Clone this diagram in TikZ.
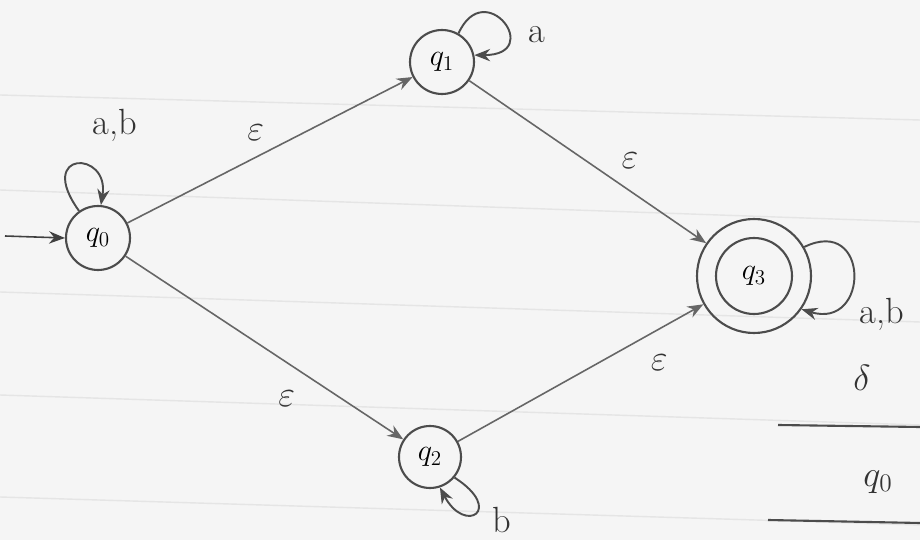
\documentclass[tikz,border=0pt]{standalone}
\usetikzlibrary{arrows.meta}
\begin{document}
\begin{tikzpicture}[x=0.02cm,y=-0.02cm,
  pen/.style={draw=black!70,line width=1.2pt},
  state/.style={circle,pen,minimum size=64*0.02cm,inner sep=0pt,font=\LARGE},
  edge/.style={draw=black!60,line width=0.9pt,-{Stealth[length=9pt,width=7pt]}},
  lab/.style={font=\huge,text=black!80},
  paper/.style={draw=black!10,line width=0.8pt}]
\fill[black!4] (0,0) rectangle (920,540);
\useasboundingbox (0,0) rectangle (920,540);
% paper lines
\draw[paper] (0,95) -- (920,120);
\draw[paper] (0,190) -- (920,222);
\draw[paper] (0,292) -- (920,322);
\draw[paper] (0,395) -- (920,425);
\draw[paper] (0,497) -- (920,525);
% states
\node[state] (q0) at (98,238) {$q_0$};
\node[state] (q1) at (442,62) {$q_1$};
\node[state,minimum size=62*0.02cm] (q2) at (430,457) {$q_2$};
\node[circle,pen,minimum size=114*0.02cm,inner sep=0pt] (q3) at (754,276) {};
\node[state,minimum size=76*0.02cm] (q3i) at (754,276) {$q_3$};
% initial
\coordinate (start) at (5,236);
\draw[edge,draw=black!75] (start) -- (q0.west);
% transitions
\draw[edge] (q0) -- node[lab,pos=0.45,above=6pt] {$\varepsilon$} (q1);
\draw[edge] (q1) -- node[lab,pos=0.6,above right=2pt] {$\varepsilon$} (q3);
\draw[edge] (q0) -- node[lab,pos=0.66,below left=4pt] {$\varepsilon$} (q2);
\draw[edge] (q2) -- node[lab,pos=0.73,below right=4pt] {$\varepsilon$} (q3);
% loops
\draw[edge,draw=black!70,line width=1.1pt] (q0.125) .. controls (35,150) and (110,150) .. (q0.85);
\node[lab] (l0) at (115,125) {a,b};
\draw[edge,draw=black!70,line width=1.1pt] (q1.60) .. controls (485,-25) and (545,55) .. (q1.12);
\node[lab] (l1) at (537,35) {a};
\draw[edge,draw=black!70,line width=1.1pt] (q2.-40) .. controls (505,510) and (465,535) .. (q2.-72);
\node[lab] (l2) at (502,520) {b};
\draw[edge,draw=black!70,line width=1.1pt] (q3.30) .. controls (870,215) and (870,330) .. (q3.-35);
\node[lab] (l3) at (882,314) {a,b};
% partial table
\node[lab] (delta) at (862,378) {$\delta$};
\coordinate (d1) at (778,425);
\coordinate (d2) at (920,427);
\draw[pen] (d1) -- (d2);
\node[lab] (tq0) at (878,482) {$q_0$};
\coordinate (e1) at (768,520);
\coordinate (e2) at (920,523);
\draw[pen] (e1) -- (e2);
\end{tikzpicture}
\end{document}
